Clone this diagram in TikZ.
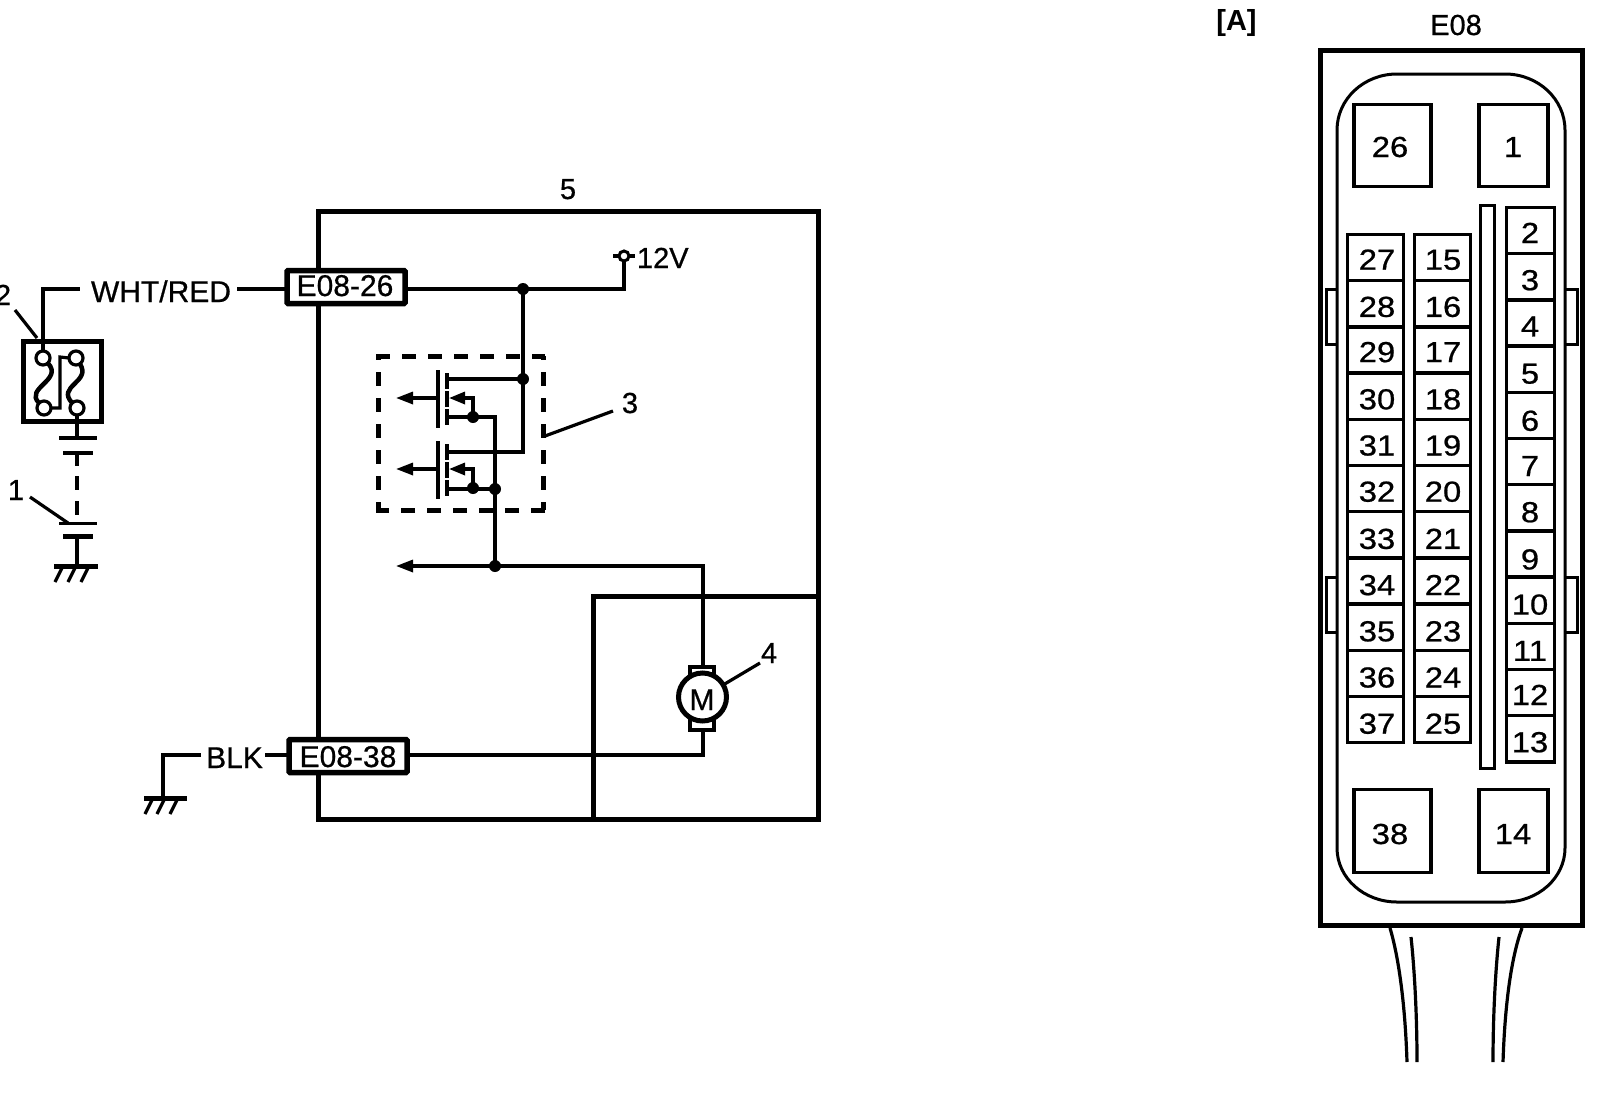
\documentclass[tikz,border=0pt]{standalone}
\usepackage{fontspec}
\setmainfont[FakeBold=0.7]{Liberation Sans}
\newfontfamily\pinfont[FakeStretch=1.13,FakeBold=0.7]{Liberation Sans}
\newfontfamily\tagfont{Liberation Sans Bold}
\usetikzlibrary{arrows.meta}
\newcommand{\szA}{\fontsize{30}{30}\selectfont}
\newcommand{\szB}{\fontsize{29}{29}\selectfont}
\tikzset{
  wire/.style={line width=3.2pt},
  heavy/.style={line width=5pt},
  txt/.style={inner sep=0pt,outer sep=0pt,anchor=base,font=\szA},
  lab/.style={inner sep=0pt,outer sep=0pt,anchor=base,font=\szB},
  pinnum/.style={inner sep=0pt,outer sep=0pt,anchor=base,font=\pinfont\szB},
  pinbox/.style={draw,line width=3.3pt,inner sep=0pt,outer sep=0pt},
  conn/.style={draw,fill=white,line width=5.5pt,inner sep=0pt,outer sep=0pt,minimum width=118pt,minimum height=33pt,rounded corners=1pt},
  dot/.style={circle,fill=black,inner sep=0pt,outer sep=0pt,minimum size=12pt},
  term/.style={circle,draw,fill=white,line width=3.2pt,inner sep=0pt,outer sep=0pt,minimum size=14pt},
  larrow/.style={wire,-{Triangle[length=17pt,width=12pt]}},
}
\begin{document}
\begin{tikzpicture}[x=1pt,y=-1pt]
\useasboundingbox (0,0) rectangle (1600,1092);
\fill[white] (0,0) rectangle (1600,1092);

% ---- fuse / battery
\node[draw,line width=5pt,inner sep=0pt,outer sep=0pt,minimum width=78pt,minimum height=80pt] (fuse) at (62,381) {};
\node[term] (f1) at (43,358) {};
\node[term] (f2) at (76,358) {};
\node[term] (f3) at (44,408) {};
\node[term] (f4) at (77,408) {};
\draw[line width=4.5pt] (f1) .. controls (64,380) and (24,388) .. (f3);
\draw[line width=4.5pt] (f2) .. controls (92,382) and (56,386) .. (f4);
\draw[wire] (f3.east) -| (60,357) -- (f2.west);
\coordinate (wr) at (80,289);
\draw[wire] (f1.north) -- (43,289) -- (wr);
\node[txt] (whtred) at (161,302) {WHT/RED};
\coordinate (bt1) at (77,438);
\coordinate (bt2) at (77,453);
\coordinate (bb1) at (77,523);
\coordinate (bb2) at (77,536);
\coordinate (gnd1) at (77,566);
\coordinate (wl) at (237,289);
\draw[wire] (f4.south) -- (bt1);
\draw[line width=3.5pt] (59,438) -- (97,438);
\draw[line width=4.5pt] (63,453) -- (93,453);
\draw[wire] (bt2) -- (77,466);
\draw[wire,dash pattern=on 14pt off 11pt] (77,476) -- (bb1);
\draw[line width=3pt] (59,523) -- (97,523);
\draw[line width=5pt] (63,536) -- (93,536);
\draw[wire] (bb2) -- (gnd1);
\draw[line width=5pt] (54,566) -- (98,566);
\foreach \x in {62,75,88} \draw[wire] (\x,568) -- (\x-7,582);
\node[lab] (l2) at (3,305) {2};
\node[lab] (l1) at (16,500) {1};
\draw[wire] (15,310) -- (37,338);
\draw[wire] (30,497) -- (68,523);

% ---- main box
\draw[heavy] (318,211) rectangle (818,819);
\draw[heavy] (593,819) |- (818,596);
\node[lab] (l5) at (568,199) {5};

% ---- connectors
\node[conn] (e26) at (346,287) {};
\node[txt] (e26t) at (345,296) {E08-26};
\node[conn] (e38) at (348,756) {};
\node[txt] (e38t) at (348,767) {E08-38};
\draw[wire] (wl) -- (e26.west |- wl);

% ---- 12V rail
\node[dot] (j1) at (523,289) {};
\node[circle,draw,fill=white,line width=3pt,inner sep=0pt,outer sep=0pt,minimum size=10pt] (v12) at (624,256) {};
\draw[wire] (e26.east |- j1) -- (j1.center) -| (v12.south);
\draw[wire] (613,256) -- (v12.west);
\draw[wire] (v12.east) -- (635,256);
\node[lab,anchor=base west] (v12t) at (637,268) {12V};

% ---- dashed box
\draw[heavy,dash pattern=on 14pt off 12pt] (376,356) -- (545,356);
\draw[heavy,dash pattern=on 14pt off 12pt,dash phase=10pt] (378,356) -- (378,510);
\draw[heavy,dash pattern=on 14pt off 12pt,dash phase=10pt] (543,356) -- (543,510);
\draw[heavy,dash pattern=on 14pt off 12pt] (545,510) -- (376,510);
\node[lab] (l3) at (630,413) {3};
\draw[wire] (545,436) -- (613,411);

% ---- MOSFETs
\foreach \o/\n in {0/a,71/b}{
  \draw[line width=4.5pt] (438,370+\o) -- (438,428+\o);
  \foreach \u/\v in {373/389,391/407,409/425}
    \draw[wire] (447,\u+\o) -- (447,\v+\o);
  \coordinate (gate\n) at (438,398+\o);
  \coordinate (gtip\n) at (396,398+\o);
  \draw[larrow] (gate\n) -- (gtip\n);
  \node[dot] (sd\n) at (473,417+\o) {};
  \coordinate (body\n) at (473,398+\o);
  \draw[wire,-{Triangle[length=16pt,width=12pt]}] (sd\n.center) -- (body\n) -- (449,398+\o);
}
\node[dot] (j2) at (523,379) {};
\node[dot] (j3) at (495,489) {};
\node[dot] (j4) at (495,566) {};
\coordinate (w1) at (447,379);
\coordinate (w2) at (447,452);
\coordinate (w3) at (447,417);
\coordinate (w4) at (447,489);
\coordinate (arrow3) at (396,566);
\draw[wire] (j1.center) -- (j2.center);
\draw[wire] (w1) -- (j2.center);
\draw[wire] (j2.center) |- (w2);
\draw[wire] (w3) -| (j3.center);
\draw[wire] (w4) -- (j3.center);
\draw[wire] (j3.center) -- (j4.center);
\draw[larrow] (j4.center) -- (arrow3);

% ---- motor
\draw[wire] (j4.center) -| (703,665);
\draw[line width=4.5pt] (690,667) rectangle (714,680);
\draw[line width=4.5pt] (690,715) rectangle (714,730);
\node[circle,draw,fill=white,line width=5pt,inner sep=0pt,outer sep=0pt,minimum size=48pt] (motor) at (702.5,697) {};
\node[txt] (motorm) at (702,710) {M};
\coordinate (mw) at (703,755);
\draw[wire] (703,732) -- (mw) -- (e38.east |- mw);
\node[lab] (l4) at (769,663) {4};
\draw[wire] (723,685) -- (760,663);

% ---- BLK
\node[txt] (blk) at (234.5,768) {BLK};
\coordinate (bw) at (201,755);
\coordinate (bw2) at (265,755);
\draw[wire] (bw) -| (163,798);
\draw[wire] (bw2) -- (e38.west |- bw2);
\draw[line width=5pt] (144,798) -- (187,798);
\foreach \x in {152,164,177} \draw[wire] (\x,800) -- (\x-7,814);

% ---- connector E08
\node[font=\tagfont\fontsize{29}{29}\selectfont,inner sep=0pt,anchor=base] (tagA) at (1236.5,30) {[A]};
\node[lab] (e08) at (1456,35) {E08};
\draw[heavy] (1320,50.5) rectangle (1582.5,925.5);
\draw[line width=3pt] (1337,130) arc[start angle=180,end angle=270,x radius=60,y radius=56] -- (1505,74)
   arc[start angle=270,end angle=360,x radius=60,y radius=56] -- (1565,848)
   arc[start angle=0,end angle=90,x radius=60,y radius=54] -- (1397,902)
   arc[start angle=90,end angle=180,x radius=60,y radius=54] -- cycle;

% clips
\foreach \y in {289,577}{
  \draw[line width=3pt] (1337,\y) -- (1326,\y) -- (1326,\y+55) -- (1337,\y+55);
  \draw[line width=3pt] (1566,\y) -- (1577,\y) -- (1577,\y+55) -- (1566,\y+55);
}

% large pins
\node[pinbox,minimum width=77pt,minimum height=82pt] (p26) at (1392.5,145.5) {};
\node[pinbox,minimum width=69pt,minimum height=82pt] (p1) at (1513.5,145.5) {};
\node[pinbox,minimum width=77pt,minimum height=83pt] (p38) at (1392.5,831) {};
\node[pinbox,minimum width=69pt,minimum height=83pt] (p14) at (1513.5,831) {};
\node[pinnum] at (1390,157) {26};
\node[pinnum] at (1513,157) {1};
\node[pinnum] at (1390,844) {38};
\node[pinnum] at (1513,844) {14};

% columns of pins
\foreach \i/\d in {0/0,1/1,2/0,3/1,4/1,5/1,6/2,7/2,8/2,9/2,10/2}{
  \pgfmathtruncatemacro{\a}{27+\i}
  \pgfmathtruncatemacro{\b}{15+\i}
  \pgfmathsetmacro{\yc}{234.5+46.2*\i+23.1}
  \pgfmathsetmacro{\yb}{234.5+46.2*\i+35.2+\d}
  \node[pinbox,minimum width=56pt,minimum height=46.2pt] (c\a) at (1375.5,\yc) {};
  \node[pinbox,minimum width=56pt,minimum height=46.2pt] (c\b) at (1442.5,\yc) {};
  \node[pinnum] at (1377,\yb) {\a};
  \node[pinnum] at (1443,\yb) {\b};
}
\foreach \i/\d in {0/0,1/1,2/1,3/2,4/3,5/2,6/2,7/3,8/2,9/2,10/0,11/1}{
  \pgfmathtruncatemacro{\c}{2+\i}
  \pgfmathsetmacro{\yc}{207.5+46.2*\i+23.1}
  \pgfmathsetmacro{\yb}{207.5+46.2*\i+35.5+\d}
  \node[pinbox,minimum width=48pt,minimum height=46.2pt] (c\c) at (1530.5,\yc) {};
  \node[pinnum] at (1530,\yb) {\c};
}
% divider bar
\draw[line width=3pt] (1480.5,205) rectangle (1494.5,768);

% wires
\draw[wire] (1390,928) .. controls (1398,955) and (1405,1000) .. (1407,1062);
\draw[wire] (1411,937) .. controls (1414,965) and (1417,1010) .. (1417,1062);
\draw[wire] (1499,937) .. controls (1496,965) and (1493,1010) .. (1493,1062);
\draw[wire] (1522,928) .. controls (1512,955) and (1505,1000) .. (1503,1062);
\end{tikzpicture}
\end{document}
